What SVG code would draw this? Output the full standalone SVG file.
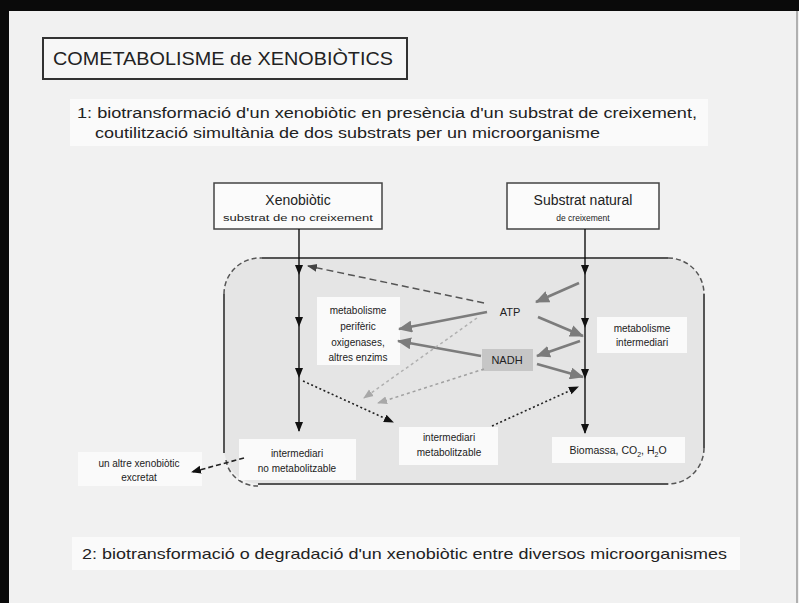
<svg xmlns="http://www.w3.org/2000/svg" width="799" height="603" viewBox="0 0 799 603">
  <style>
    text { font-family: "Liberation Sans", Arial, sans-serif; fill: #222; }
    .box { fill: #fbfbfb; stroke: #444; stroke-width: 1.5; }
    .pane { fill: #fafafa; stroke: none; }
    .lbl { font-size: 10px; text-anchor: middle; }
    .flow { stroke: #111; stroke-width: 1.4; fill: none; marker-end: url(#tipBlack); }
    .energy { stroke: #7c7c7c; stroke-width: 2.6; fill: none; marker-end: url(#tipGray); }
    .cellEdge { stroke: #555; stroke-width: 2; fill: none; }
    .cellCorner { stroke: #555; stroke-width: 1.5; fill: none; stroke-dasharray: 5 3; }
  </style>
  <defs>
    <marker id="tipBlack" markerUnits="userSpaceOnUse" markerWidth="10" markerHeight="10" viewBox="0 0 10 10" refX="9" refY="5" orient="auto">
      <path d="M0,1 L10,5 L0,9 Z" fill="#111"/>
    </marker>
    <marker id="tipGray" markerUnits="userSpaceOnUse" markerWidth="14" markerHeight="12" viewBox="0 0 14 12" refX="13" refY="6" orient="auto">
      <path d="M0,0 L14,6 L0,12 Z" fill="#7c7c7c"/>
    </marker>
    <marker id="tipDark" markerUnits="userSpaceOnUse" markerWidth="10" markerHeight="10" viewBox="0 0 10 10" refX="9" refY="5" orient="auto">
      <path d="M0,1 L10,5 L0,9 Z" fill="#444"/>
    </marker>
    <marker id="tipLight" markerUnits="userSpaceOnUse" markerWidth="10" markerHeight="10" viewBox="0 0 10 10" refX="9" refY="5" orient="auto">
      <path d="M0,1 L10,5 L0,9 Z" fill="#a8a8a8"/>
    </marker>
  </defs>

  <!-- slide background and frame -->
  <rect x="0" y="0" width="799" height="603" fill="#f1f1f1"/>
  <rect x="0" y="0" width="799" height="11" fill="#0a0a0a"/>
  <rect x="0" y="0" width="9" height="603" fill="#0a0a0a"/>
  <line x1="797" y1="11" x2="797" y2="603" stroke="#9a9a9a" stroke-width="1.5"/>

  <!-- title -->
  <g id="title">
    <rect x="43" y="38" width="364" height="41" fill="#f7f7f7" stroke="#333" stroke-width="2"/>
    <text x="53" y="65" font-size="19" textLength="340" lengthAdjust="spacingAndGlyphs">COMETABOLISME de XENOBIÒTICS</text>
  </g>

  <!-- case 1 heading -->
  <g id="case1">
    <rect class="pane" x="70" y="99" width="638" height="47"/>
    <text x="77" y="118" font-size="14" textLength="620" lengthAdjust="spacingAndGlyphs">1: biotransformació d'un xenobiòtic en presència d'un substrat de creixement,</text>
    <text x="95" y="138" font-size="14" textLength="505" lengthAdjust="spacingAndGlyphs">coutilització simultània de dos substrats per un microorganisme</text>
  </g>

  <!-- the cell -->
  <g id="cell">
    <rect x="224" y="258" width="480" height="226" rx="36" fill="#e5e5e5"/>
    <line class="cellEdge" x1="262" y1="258" x2="668" y2="258"/>
    <line class="cellEdge" x1="704" y1="294" x2="704" y2="448"/>
    <line class="cellEdge" x1="668" y1="484" x2="258" y2="484"/>
    <line class="cellEdge" x1="224" y1="453" x2="224" y2="294"/>
    <path class="cellCorner" d="M224,294 A36,36 0 0 1 262,258"/>
    <path class="cellCorner" d="M668,258 A36,36 0 0 1 704,294"/>
    <path class="cellCorner" d="M704,448 A36,36 0 0 1 668,484"/>
    <path class="cellCorner" d="M226,460 A32,30 0 0 0 258,486"/>
  </g>

  <!-- nodes -->
  <g id="xenobiotic">
    <rect class="box" x="214" y="183" width="168" height="46"/>
    <text x="298" y="205" font-size="14" text-anchor="middle">Xenobiòtic</text>
    <text x="298" y="221" font-size="8.5" text-anchor="middle" textLength="150" lengthAdjust="spacingAndGlyphs">substrat de no creixement</text>
  </g>
  <g id="substrat-natural">
    <rect class="box" x="507" y="183" width="152" height="46"/>
    <text x="583" y="205" font-size="14" text-anchor="middle">Substrat natural</text>
    <text x="583" y="221" font-size="8.5" text-anchor="middle">de creixement</text>
  </g>
  <g id="metabolisme-periferic">
    <rect class="pane" x="317" y="297" width="83" height="68"/>
    <text class="lbl" x="358" y="314">metabolisme</text>
    <text class="lbl" x="358" y="330">perifèric</text>
    <text class="lbl" x="358" y="346">oxigenases,</text>
    <text class="lbl" x="358" y="361">altres enzims</text>
  </g>
  <g id="atp">
    <text x="510" y="316" font-size="11" text-anchor="middle">ATP</text>
  </g>
  <g id="nadh">
    <rect x="482" y="349" width="51" height="22" fill="#c6c6c6"/>
    <text x="507" y="364" font-size="11" text-anchor="middle">NADH</text>
  </g>
  <g id="metabolisme-intermediari">
    <rect class="pane" x="597" y="317" width="90" height="36"/>
    <text class="lbl" x="642" y="332">metabolisme</text>
    <text class="lbl" x="642" y="346">intermediari</text>
  </g>
  <g id="intermediari-no-metabolitzable">
    <rect class="pane" x="239" y="439" width="117" height="41"/>
    <text class="lbl" x="297" y="457">intermediari</text>
    <text class="lbl" x="297" y="472">no metabolitzable</text>
  </g>
  <g id="intermediari-metabolitzable">
    <rect class="pane" x="399" y="427" width="99" height="38"/>
    <text class="lbl" x="449" y="441">intermediari</text>
    <text class="lbl" x="449" y="456">metabolitzable</text>
  </g>
  <g id="biomassa">
    <rect class="pane" x="552" y="437" width="133" height="26"/>
    <text x="618" y="454" font-size="10.5" text-anchor="middle">Biomassa, CO<tspan font-size="7" dy="3">2</tspan><tspan dy="-3">, H</tspan><tspan font-size="7" dy="3">2</tspan><tspan dy="-3">O</tspan></text>
  </g>
  <g id="altre-xenobiotic">
    <rect class="pane" x="78" y="452" width="124" height="34"/>
    <text class="lbl" x="139" y="467">un altre xenobiòtic</text>
    <text class="lbl" x="139" y="481">excretat</text>
  </g>

  <!-- case 2 heading -->
  <g id="case2">
    <rect class="pane" x="72" y="537" width="668" height="33"/>
    <text x="82" y="559" font-size="15" textLength="645" lengthAdjust="spacingAndGlyphs">2: biotransformació o degradació d'un xenobiòtic entre diversos microorganismes</text>
  </g>

  <!-- connectors -->
  <g id="connectors">
    <!-- xenobiotic pathway -->
    <line class="flow" x1="299" y1="229" x2="299" y2="274"/>
    <line class="flow" x1="299" y1="274" x2="299" y2="326"/>
    <line class="flow" x1="299" y1="326" x2="299" y2="377"/>
    <line class="flow" x1="299" y1="377" x2="299" y2="431"/>
    <!-- natural substrate pathway -->
    <line class="flow" x1="585" y1="229" x2="585" y2="274"/>
    <line class="flow" x1="585" y1="274" x2="585" y2="327"/>
    <line class="flow" x1="585" y1="327" x2="585" y2="378"/>
    <line class="flow" x1="585" y1="378" x2="585" y2="433"/>

    <!-- energy and reducing power -->
    <line class="energy" x1="579" y1="283" x2="536" y2="302"/>
    <line class="energy" x1="538" y1="317" x2="583" y2="336"/>
    <line class="energy" x1="487" y1="312" x2="399" y2="329"/>
    <line class="energy" x1="580" y1="341" x2="537" y2="356"/>
    <line class="energy" x1="481" y1="356" x2="398" y2="341" stroke="#6a6a6a" stroke-width="3"/>
    <line class="energy" x1="537" y1="364" x2="583" y2="377"/>

    <!-- ATP supplied to the first step -->
    <line x1="484" y1="303" x2="308" y2="266" stroke="#555" stroke-width="1.5" stroke-dasharray="7 4" marker-end="url(#tipDark)"/>

    <!-- faint supply lines -->
    <line x1="477" y1="318" x2="364" y2="398" stroke="#b0b0b0" stroke-width="1.5" stroke-dasharray="3 3" marker-end="url(#tipLight)"/>
    <line x1="484" y1="369" x2="378" y2="403" stroke="#a0a0a0" stroke-width="1.5" stroke-dasharray="3 3" marker-end="url(#tipLight)"/>

    <!-- metabolisable intermediate route -->
    <line x1="303" y1="381" x2="393" y2="422" stroke="#222" stroke-width="1.6" stroke-dasharray="2 2.5" marker-end="url(#tipBlack)"/>
    <line x1="492" y1="426" x2="578" y2="387" stroke="#222" stroke-width="1.6" stroke-dasharray="2 2.5" marker-end="url(#tipBlack)"/>

    <!-- excretion -->
    <line x1="244" y1="458" x2="192" y2="472" stroke="#222" stroke-width="1.6" stroke-dasharray="5 3" marker-end="url(#tipBlack)"/>
  </g>
</svg>
